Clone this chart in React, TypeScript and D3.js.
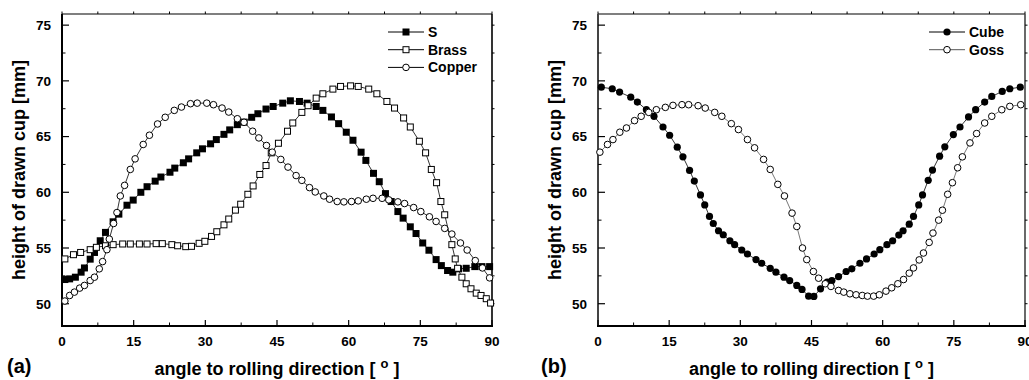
import React from "react";
import * as d3 from "d3";

// panel (a)
const sAngles = [0.6, 1.6, 2.8, 4.0, 4.7, 5.9, 6.8, 8.0, 9.1, 10.7, 11.9, 13.6, 14.9, 16.5, 17.8, 19.5, 20.7, 22.6, 23.6, 25.4, 26.5, 28.2, 29.4, 31.1, 32.3, 33.9, 35.1, 36.7, 38.1, 39.7, 41.0, 42.7, 44.2, 46.2, 47.8, 49.7, 51.3, 53.2, 54.6, 56.4, 57.9, 59.5, 60.9, 62.6, 63.6, 65.2, 66.4, 67.7, 68.9, 70.3, 71.4, 72.9, 74.1, 75.5, 76.8, 78.3, 79.4, 80.7, 81.8, 83.0, 84.6, 86.4, 87.9, 89.5];
const sValues = [52.17, 52.23, 52.38, 52.83, 53.21, 54.0, 54.6, 55.65, 56.4, 57.35, 58.04, 58.84, 59.3, 60.0, 60.5, 61.0, 61.37, 61.8, 62.17, 62.65, 63.0, 63.54, 63.9, 64.35, 64.73, 65.2, 65.6, 66.07, 66.3, 66.73, 67.05, 67.47, 67.7, 68.0, 68.21, 68.15, 68.0, 67.7, 67.35, 66.76, 66.16, 65.39, 64.67, 63.6, 62.86, 61.7, 60.95, 59.88, 59.17, 58.27, 57.68, 56.9, 56.3, 55.45, 54.8, 53.96, 53.42, 52.98, 52.83, 53.13, 53.18, 53.33, 53.33, 53.33];

const brassAngles = [0.6, 2.4, 3.9, 5.9, 7.2, 9.1, 10.7, 12.7, 14.3, 16.2, 17.8, 19.7, 21.0, 23.0, 24.2, 25.9, 27.1, 28.7, 29.9, 31.3, 32.4, 33.9, 34.9, 36.3, 37.4, 38.9, 40.0, 41.4, 42.7, 43.8, 45.3, 47.2, 48.3, 50.2, 51.5, 53.2, 54.6, 56.7, 58.3, 60.4, 62.0, 64.2, 65.9, 68.0, 69.6, 71.5, 72.9, 74.8, 76.1, 77.3, 78.4, 79.3, 80.1, 81.6, 82.3, 82.8, 83.7, 84.6, 85.6, 86.7, 87.7, 88.8, 89.7];
const brassValues = [54.02, 54.4, 54.6, 54.85, 55.06, 55.2, 55.3, 55.36, 55.36, 55.36, 55.36, 55.39, 55.39, 55.3, 55.2, 55.12, 55.15, 55.42, 55.6, 56.04, 56.46, 57.08, 57.6, 58.4, 58.93, 59.82, 60.57, 61.6, 62.4, 63.54, 64.4, 65.48, 66.22, 67.17, 67.77, 68.45, 68.84, 69.26, 69.5, 69.55, 69.5, 69.26, 68.84, 68.15, 67.56, 66.67, 65.86, 64.58, 63.54, 62.05, 60.86, 59.17, 57.98, 55.3, 54.02, 53.18, 52.38, 51.79, 51.34, 50.95, 50.74, 50.45, 50.06];

const copperAngles = [0.6, 1.6, 2.6, 3.7, 4.7, 5.9, 6.8, 7.8, 8.5, 9.4, 9.9, 10.8, 11.5, 12.2, 13.1, 14.3, 15.3, 17.0, 18.3, 20.0, 21.6, 23.5, 25.0, 26.9, 28.3, 30.3, 31.7, 33.5, 34.9, 36.7, 38.1, 39.9, 41.2, 42.8, 44.0, 45.8, 47.3, 49.0, 50.2, 51.8, 53.0, 54.8, 56.0, 57.6, 59.0, 60.6, 62.0, 63.7, 65.1, 67.0, 68.4, 70.3, 71.7, 73.6, 75.1, 76.9, 78.3, 80.1, 81.6, 83.4, 84.8, 86.5, 88.0, 89.5];
const copperValues = [50.24, 50.74, 51.04, 51.4, 51.64, 52.08, 52.38, 53.13, 53.78, 54.85, 55.8, 57.2, 58.18, 59.67, 60.62, 62.05, 63.0, 64.29, 65.12, 66.13, 66.73, 67.35, 67.65, 67.95, 68.0, 68.0, 67.86, 67.56, 67.2, 66.6, 66.28, 65.48, 64.88, 64.2, 63.6, 62.95, 62.26, 61.5, 61.07, 60.42, 60.03, 59.67, 59.38, 59.17, 59.14, 59.17, 59.23, 59.38, 59.46, 59.46, 59.32, 59.14, 58.99, 58.63, 58.27, 57.8, 57.38, 56.76, 56.25, 55.45, 54.82, 53.87, 53.21, 52.32];

// panel (b)
const cubeAngles = [0.7, 3.0, 4.55, 6.9, 8.3, 10.2, 11.8, 13.7, 15.1, 16.7, 17.9, 19.3, 20.3, 21.6, 22.5, 23.5, 24.3, 25.4, 26.4, 27.8, 28.8, 30.3, 31.5, 33.3, 34.5, 36.3, 37.5, 39.2, 40.4, 41.9, 43.0, 44.4, 45.5, 46.9, 48.3, 49.3, 50.7, 52.3, 53.5, 55.2, 56.6, 58.2, 59.4, 60.9, 62.1, 63.4, 64.3, 65.6, 66.5, 67.6, 68.4, 69.6, 70.5, 72.0, 73.1, 74.9, 76.3, 78.1, 79.6, 81.5, 83.0, 85.2, 86.8, 89.0];
const cubeValues = [69.43, 69.29, 68.99, 68.54, 68.1, 67.41, 66.82, 65.86, 65.12, 64.05, 63.18, 61.96, 61.01, 59.76, 58.87, 57.83, 57.2, 56.55, 56.19, 55.65, 55.3, 54.82, 54.46, 53.96, 53.63, 53.18, 52.83, 52.38, 52.08, 51.64, 51.28, 50.68, 50.65, 51.34, 51.93, 52.08, 52.44, 52.89, 53.13, 53.63, 54.02, 54.46, 54.85, 55.3, 55.65, 56.16, 56.55, 57.14, 57.83, 58.87, 59.76, 61.07, 61.99, 63.24, 64.08, 65.18, 65.86, 66.76, 67.41, 68.1, 68.6, 69.05, 69.29, 69.43];

const gossAngles = [0.4, 2.0, 3.15, 4.6, 6.0, 7.7, 9.1, 10.7, 12.3, 14.2, 15.8, 17.7, 19.1, 21.1, 22.6, 24.6, 26.1, 28.1, 29.6, 31.5, 33.0, 34.9, 36.3, 37.9, 39.3, 40.9, 41.9, 43.1, 44.0, 45.4, 46.5, 47.9, 49.1, 50.7, 51.8, 53.1, 54.4, 55.7, 56.8, 58.1, 59.3, 60.7, 61.9, 63.2, 64.4, 65.6, 66.5, 67.7, 68.6, 69.8, 70.6, 71.8, 72.6, 73.7, 74.7, 75.8, 76.8, 78.4, 79.8, 81.5, 83.0, 85.1, 86.8, 89.1];
const gossValues = [63.6, 64.29, 64.73, 65.39, 65.77, 66.43, 66.82, 67.17, 67.41, 67.62, 67.8, 67.86, 67.86, 67.77, 67.56, 67.17, 66.82, 66.16, 65.63, 64.73, 63.99, 62.95, 62.05, 60.71, 59.67, 58.13, 56.93, 55.0, 53.96, 52.89, 52.29, 51.79, 51.55, 51.19, 51.04, 50.89, 50.8, 50.74, 50.68, 50.68, 50.8, 51.13, 51.43, 51.79, 52.17, 52.74, 53.21, 53.93, 54.55, 55.5, 56.34, 57.5, 58.39, 59.82, 60.86, 62.2, 63.18, 64.43, 65.27, 66.22, 66.82, 67.41, 67.71, 67.86];

const xTicks = [0, 15, 30, 45, 60, 75, 90];
const yTicks = [50, 55, 60, 65, 70, 75];

const FONT = "'Liberation Sans', Arial, Helvetica, sans-serif";

const Marker = ({ kind, x, y }) => {
  if (kind === "fsq") return <rect x={x - 3.5} y={y - 3.5} width={7} height={7} fill="#000" />;
  if (kind === "osq") return <rect x={x - 3} y={y - 3} width={6} height={6} fill="#fff" stroke="#000" strokeWidth={1} />;
  if (kind === "fci") return <circle cx={x} cy={y} r={3.6} fill="#000" />;
  return <circle cx={x} cy={y} r={3.3} fill="#fff" stroke="#000" strokeWidth={1} />;
};

const Panel = ({ x0, x1, series, tag, tagX, legendX, sideColor }) => {
  const y0 = 14, y1 = 326;
  const x = d3.scaleLinear().domain([0, 90]).range([x0, x1]);
  const y = d3.scaleLinear().domain([48, 76]).range([y1, y0]);
  const line = d3.line().x((d) => x(d[0])).y((d) => y(d[1]));
  const xMinor = d3.range(7.5, 90, 15);
  const yMinor = d3.range(52.5, 76, 5);
  const cx = (x0 + x1) / 2;

  return (
    <g fontFamily={FONT} fontWeight="bold">
      {/* frame */}
      <line x1={x0} x2={x1} y1={y0} y2={y0} stroke="#000" strokeWidth={1.2} />
      <line x1={x1} x2={x1} y1={y0} y2={y1} stroke={sideColor} strokeWidth={1.6} />
      <line x1={x0} x2={x0} y1={y0} y2={y1 + 1} stroke={sideColor} strokeWidth={2} />
      <line x1={x0 - 1} x2={x1 + 1} y1={y1} y2={y1} stroke="#000" strokeWidth={2} />

      {xTicks.map((t) => (
        <g key={"xt" + t}>
          <line x1={x(t)} x2={x(t)} y1={y1} y2={y1 - 6} stroke="#000" strokeWidth={1.2} />
          <line x1={x(t)} x2={x(t)} y1={y0} y2={y0 - 2.5} stroke="#000" strokeWidth={1} />
          <text x={x(t)} y={346} textAnchor="middle" fontSize={13.5}>{t}</text>
        </g>
      ))}
      {xMinor.map((t) => (
        <g key={"xm" + t}>
          <line x1={x(t)} x2={x(t)} y1={y1} y2={y1 - 3.5} stroke="#000" strokeWidth={1} />
          <line x1={x(t)} x2={x(t)} y1={y0} y2={y0 - 2.5} stroke="#000" strokeWidth={1} />
        </g>
      ))}
      {yTicks.map((t) => (
        <g key={"yt" + t}>
          <line x1={x0} x2={x0 + 7} y1={y(t)} y2={y(t)} stroke="#000" strokeWidth={1.2} />
          <line x1={x1} x2={x1 + 2.5} y1={y(t)} y2={y(t)} stroke="#000" strokeWidth={1} />
          <text x={x0 - 11} y={y(t) + 4.8} textAnchor="end" fontSize={13.5}>{t}</text>
        </g>
      ))}
      {yMinor.map((t) => (
        <g key={"ym" + t}>
          <line x1={x0} x2={x0 + 3.5} y1={y(t)} y2={y(t)} stroke="#000" strokeWidth={1} />
          <line x1={x1} x2={x1 + 2.5} y1={y(t)} y2={y(t)} stroke="#000" strokeWidth={1} />
        </g>
      ))}

      {/* axis titles */}
      <text
        transform={`translate(${x0 - 37},170) rotate(-90)`}
        textAnchor="middle"
        fontSize={18}
      >
        height of drawn cup [mm]
      </text>
      <text x={cx} y={375} textAnchor="middle" fontSize={18}>
        angle to rolling direction [{" "}
        <tspan dy={-7} fontSize={13}>o</tspan>
        <tspan dy={7}> ]</tspan>
      </text>
      <text x={tagX} y={373} fontSize={20}>{tag}</text>

      {/* series */}
      {series.map((s) => {
        const pts = s.angles.map((a, i) => [a, s.values[i]]);
        return (
          <g key={s.name}>
            <path d={line(pts)} fill="none" stroke={s.lineColor} strokeWidth={0.8} />
            {pts.map((p, i) => (
              <Marker key={i} kind={s.kind} x={x(p[0])} y={y(p[1])} />
            ))}
          </g>
        );
      })}

      {/* legend */}
      {series.map((s, i) => {
        const ly = 32 + i * 17.7;
        return (
          <g key={"lg" + s.name}>
            <line x1={legendX} x2={legendX + 36} y1={ly} y2={ly} stroke={s.lineColor} strokeWidth={1} />
            <Marker kind={s.kind} x={legendX + 18} y={ly} />
            <text x={legendX + 40} y={ly + 5} fontSize={14}>{s.name}</text>
          </g>
        );
      })}
    </g>
  );
};

const seriesA = [
  { name: "S", angles: sAngles, values: sValues, kind: "fsq", lineColor: "#000" },
  { name: "Brass", angles: brassAngles, values: brassValues, kind: "osq", lineColor: "#000" },
  { name: "Copper", angles: copperAngles, values: copperValues, kind: "oci", lineColor: "#000" },
];
const seriesB = [
  { name: "Cube", angles: cubeAngles, values: cubeValues, kind: "fci", lineColor: "#000" },
  { name: "Goss", angles: gossAngles, values: gossValues, kind: "oci", lineColor: "#555" },
];

export default function App() {
  return (
    <svg
      width={1029}
      height={380}
      style={{ position: "absolute", left: 0, top: 0, background: "#fff" }}
    >
      <rect width={1029} height={380} fill="#fff" />
      <Panel x0={62} x1={492} series={seriesA} tag="(a)" tagX={7} legendX={388} sideColor="#000" />
      <Panel x0={598} x1={1025} series={seriesB} tag="(b)" tagX={541} legendX={929} sideColor="#444" />
    </svg>
  );
}
